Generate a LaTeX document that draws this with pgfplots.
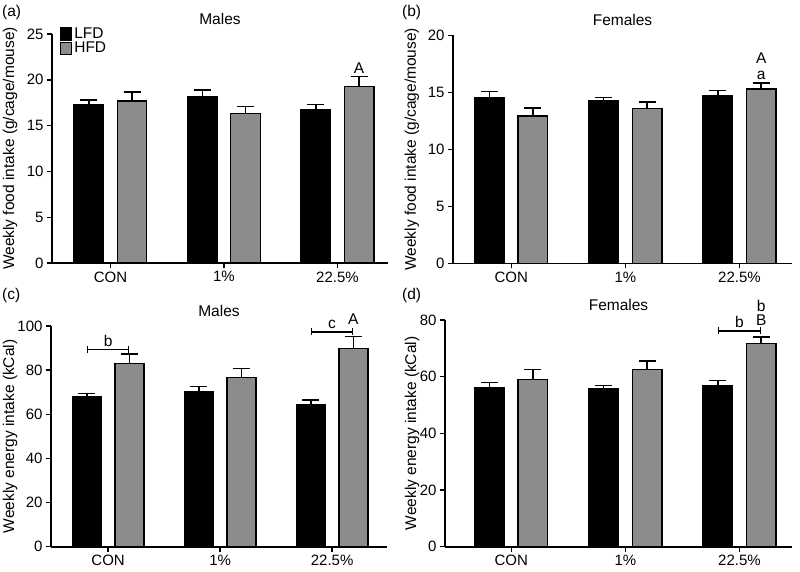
\documentclass[border=0pt]{standalone}
\usepackage{pgfplots}
\pgfplotsset{compat=1.18}
\usepackage{fontspec}
\setmainfont{Liberation Sans}
\usetikzlibrary{arrows.meta}
\definecolor{hfd}{gray}{0.55}
\newcommand{\fs}{\fontsize{15.5}{18}\selectfont}
\newcommand{\ft}{\fontsize{15}{18}\selectfont}
\pgfplotsset{
  myaxis/.style={
    scale only axis,
    axis lines*=left,
    axis line style={line width=1.6pt,-},
    every tick/.style={black,line width=1.4pt},
    tick align=outside,
    major tick length=5pt,
    minor tick num=0,
    xtick={0,1,2},
    xticklabels={CON,1\%,22.5\%},
    ymin=0,
    clip=false,
    /pgf/number format/assume math mode=true,
    tick label style={font=\ft},
    label style={font=\fs},
    title style={font=\fs,at={(axis description cs:0.5,1)},anchor=south},
    error bars/y dir=plus,
    error bars/y explicit,
    error bars/error bar style={line width=1.6pt,black},
    error bars/error mark options={rotate=90,mark size=8.5pt,line width=1.6pt,black},
  },
  lfd/.style={ybar,bar width=0.26,bar shift=0pt,fill=black,draw=black,line width=1.4pt},
  hfdbar/.style={ybar,bar width=0.26,bar shift=0pt,fill=hfd,draw=black,line width=1.4pt},
}
\begin{document}
\begin{tikzpicture}[font=\fs]
\path[use as bounding box] (0,0) rectangle (800pt,571pt);
\node[anchor=west,inner sep=0pt] at (2pt,559pt) {(a)};
\node[anchor=west,inner sep=0pt] at (402pt,559pt) {(b)};
\node[anchor=west,inner sep=0pt] at (2pt,276pt) {(c)};
\node[anchor=west,inner sep=0pt] at (402pt,276pt) {(d)};

% (a)
\begin{axis}[myaxis, at={(52pt,308pt)}, anchor=south west,
  width=336pt, height=229pt, xmin=-0.515, xmax=2.445, ymax=25, ytick={0,5,...,25},
  title={Males},
  ylabel={Weekly food intake (g/cage/mouse)},
  ylabel style={at={(axis description cs:-0.125,0.5)},anchor=center},
  legend style={at={(rel axis cs:0.02,1.04)},anchor=north west,draw=none,fill=none,font=\fs,
    row sep=-2pt, inner sep=1pt},
  legend cell align=left]
\addplot[lfd, legend image code/.code={\draw[fill=black,draw=black,line width=1.4pt] (0pt,-6pt) rectangle (11pt,6pt);}]
  coordinates {(-0.19,17.25) +- (0,0.55) (0.81,18.2) +- (0,0.7) (1.81,16.7) +- (0,0.6)};
\addlegendentry{LFD}
\addplot[hfdbar, legend image code/.code={\draw[fill=hfd,draw=black,line width=1.4pt] (0pt,-6pt) rectangle (11pt,6pt);}]
  coordinates {(0.19,17.7) +- (0,1.0) (1.19,16.3) +- (0,0.8) (2.19,19.25) +- (0,1.1)};
\addlegendentry{HFD}
\node at (axis cs:2.19,21.3) {A};
\end{axis}

% (b)
\begin{axis}[myaxis, at={(453pt,307.7pt)}, anchor=south west,
  width=339pt, height=228pt, xmin=-0.51, xmax=2.46, ymax=20, ytick={0,5,...,20},
  title={Females},
  ylabel={Weekly food intake (g/cage/mouse)},
  ylabel style={at={(axis description cs:-0.121,0.5)},anchor=center}]
\addplot[lfd] coordinates {(-0.19,14.56) +- (0,0.5) (0.81,14.23) +- (0,0.33) (1.81,14.7) +- (0,0.47)};
\addplot[hfdbar] coordinates {(0.19,12.92) +- (0,0.68) (1.19,13.6) +- (0,0.55) (2.19,15.29) +- (0,0.5)};
\node[inner sep=0pt] at (axis cs:2.19,18.0) {A};
\node[inner sep=0pt] at (axis cs:2.19,16.45) {a};
\end{axis}

% (c)
\begin{axis}[myaxis, at={(51pt,24.3pt)}, anchor=south west,
  width=336pt, height=220.7pt, xmin=-0.51, xmax=2.49, ymax=100, ytick={0,20,...,100},
  title={Males},
  ylabel={Weekly energy intake (kCal)},
  ylabel style={at={(axis description cs:-0.122,0.5)},anchor=center}]
\addplot[lfd] coordinates {(-0.19,67.8) +- (0,1.7) (0.81,70.1) +- (0,2.4) (1.81,64.2) +- (0,2.3)};
\addplot[hfdbar] coordinates {(0.19,83.1) +- (0,4.2) (1.19,76.7) +- (0,4.1) (2.19,89.9) +- (0,5.3)};
\draw[line width=1.6pt,{Bar[width=7pt]}-{Bar[width=7pt]}] (axis cs:-0.19,89.4) -- (axis cs:0.19,89.4);
\node[anchor=south,inner sep=1pt] at (axis cs:0,90.2) {b};
\draw[line width=1.6pt,{Bar[width=7pt]}-{Bar[width=7pt]}] (axis cs:1.81,97.4) -- (axis cs:2.19,97.4);
\node[anchor=south,inner sep=1pt] at (axis cs:2.0,98.2) {c};
\node at (axis cs:2.19,103.0) {A};
\end{axis}

% (d)
\begin{axis}[myaxis, at={(445pt,24.3pt)}, anchor=south west,
  width=347pt, height=226.7pt, xmin=-0.58, xmax=2.46, ymax=80, ytick={0,20,...,80},
  title={Females},
  ylabel={Weekly energy intake (kCal)},
  ylabel style={at={(axis description cs:-0.095,0.5)},anchor=center}]
\addplot[lfd] coordinates {(-0.19,56.2) +- (0,1.7) (0.81,55.6) +- (0,1.3) (1.81,56.7) +- (0,1.9)};
\addplot[hfdbar] coordinates {(0.19,59.1) +- (0,3.5) (1.19,62.6) +- (0,2.9) (2.19,71.8) +- (0,2.3)};
\draw[line width=1.6pt,{Bar[width=7pt]}-{Bar[width=7pt]}] (axis cs:1.81,76.2) -- (axis cs:2.19,76.2);
\node[anchor=south,inner sep=1pt] at (axis cs:2.0,76.8) {b};
\node[inner sep=0pt] at (axis cs:2.19,79.8) {B};
\node[inner sep=0pt] at (axis cs:2.19,85.0) {b};
\end{axis}
\end{tikzpicture}
\end{document}
